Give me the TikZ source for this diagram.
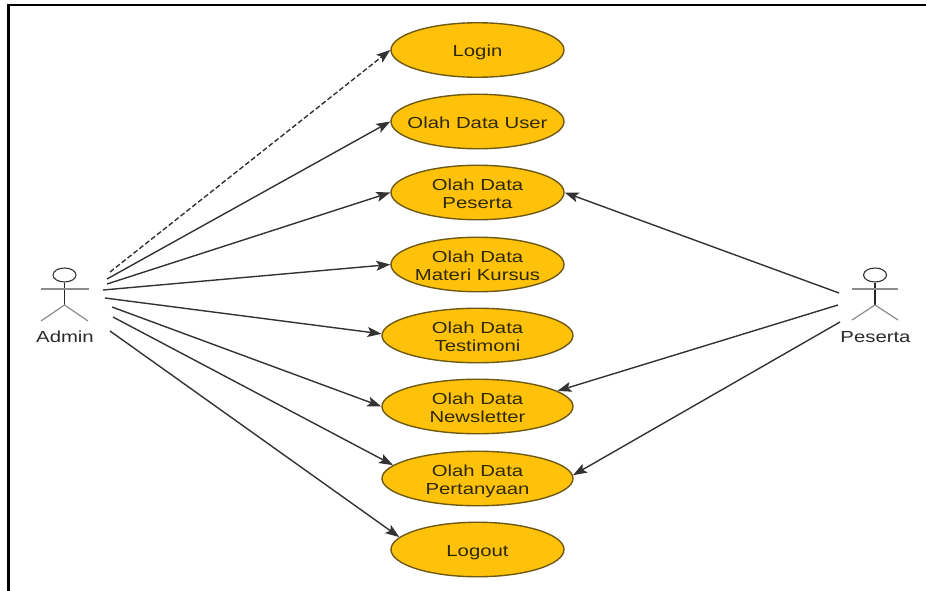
\documentclass[tikz,border=0pt]{standalone}
\usepackage{fontspec}
\setmainfont[FakeStretch=1.27]{Liberation Sans}
\usetikzlibrary{shapes.geometric,arrows.meta}
\definecolor{ucfill}{HTML}{FFC20A}
\definecolor{ucline}{HTML}{6E5A14}
\definecolor{uctext}{HTML}{2E2806}
\definecolor{wire}{HTML}{333333}
\definecolor{limb}{HTML}{8C8C8C}
\definecolor{lbl}{HTML}{2A2A2A}
\newcommand{\uctxt}[1]{\raisebox{-7.5pt}[0pt][0pt]{\makebox[0pt][c]{\begin{tabular}{@{}c@{}}#1\end{tabular}}}}
\tikzset{
  every node/.style={font=\fontsize{16pt}{18pt}\selectfont},
  uc/.style={ellipse,draw=ucline,fill=ucfill,line width=1.4pt,inner sep=0pt,
    minimum height=54.5pt,text=uctext},
  ucnarrow/.style={uc,minimum width=173pt},
  ucwide/.style={uc,minimum width=191pt},
  assoc/.style={draw=wire,line width=1.4pt,-{Stealth[length=14pt,width=10pt,inset=3pt]}},
  assocdash/.style={assoc,dashed,dash pattern=on 5pt off 2.5pt},
  acthead/.style={ellipse,draw=wire,line width=1.1pt,minimum width=23pt,minimum height=14pt,inner sep=0pt},
  actbody/.style={draw=black!85,line width=1.1pt},
  actlimb/.style={draw=limb,line width=1.2pt},
  actlabel/.style={text=lbl,inner sep=0pt},
  frameline/.style={draw=black,line width=2.6pt}
}
\begin{document}
\begin{tikzpicture}[x=1pt,y=-1pt]
\useasboundingbox (0,0) rectangle (926,591);
\fill[white] (0,0) rectangle (926,591);
\draw[frameline] (8.5,591) -- (8.5,5) -- (926,5);

\node[ucnarrow] (login) at (477.5,50) {\uctxt{Login}};
\node[ucnarrow] (user) at (477.5,121.5) {\uctxt{Olah Data User}};
\node[ucnarrow] (peserta) at (477.5,192.5) {\uctxt{Olah Data\\Peserta}};
\node[ucnarrow] (materi) at (477.5,264.5) {\uctxt{Olah Data\\Materi Kursus}};
\node[ucwide] (testi) at (477.5,335.5) {\uctxt{Olah Data\\Testimoni}};
\node[ucwide] (news) at (477.5,406.5) {\uctxt{Olah Data\\Newsletter}};
\node[ucwide] (tanya) at (477.5,478.5) {\uctxt{Olah Data\\Pertanyaan}};
\node[ucnarrow] (logout) at (477.5,549.5) {\uctxt{Logout}};

% Admin actor
\node[acthead] (ahead) at (64.5,275) {};
\coordinate (ahip) at (64.5,305);
\coordinate (aarml) at (41,289);
\coordinate (aarmr) at (89,289);
\coordinate (alegl) at (41,321);
\coordinate (alegr) at (88,321);
\draw[actbody] (ahead.south) -- (ahip);
\draw[actlimb] (aarml) -- (aarmr);
\draw[actlimb] (alegl) -- (ahip) -- (alegr);
\node[actlabel] (alabel) at (65,337) {Admin};

% Peserta actor
\node[acthead] (phead) at (875,275) {};
\coordinate (phip) at (875,305);
\coordinate (parml) at (852,289);
\coordinate (parmr) at (898,289);
\coordinate (plegl) at (852,320);
\coordinate (plegr) at (898,320);
\draw[actbody] (phead.south) -- (phip);
\draw[actlimb] (parml) -- (parmr);
\draw[actlimb] (plegl) -- (phip) -- (plegr);
\node[actlabel] (plabel) at (875.5,337) {Peserta};

% free ends beside the actors
\coordinate (a1) at (110,272);
\coordinate (a2) at (107,279);
\coordinate (a3) at (107,284);
\coordinate (a4) at (103,290);
\coordinate (a5) at (105,298);
\coordinate (a6) at (112,307);
\coordinate (a7) at (113,317);
\coordinate (a8) at (110,331);
\coordinate (p1) at (839,293);
\coordinate (p2) at (838,305);
\coordinate (p3) at (840,322);

\draw[assocdash] (a1) -- (login.180);
\draw[assoc] (a2) -- (user.180);
\draw[assoc] (a3) -- (peserta.180);
\draw[assoc] (a4) -- (materi.180);
\draw[assoc] (a5) -- (testi.179);
\draw[assoc] (a6) -- (news.180);
\draw[assoc] (a7) -- (tanya.171);
\draw[assoc] (a8) -- (logout.171);
\draw[assoc] (p1) -- (peserta.0);
\draw[assoc] (p2) -- (news.11);
\draw[assoc] (p3) -- (tanya.2);
\end{tikzpicture}
\end{document}
